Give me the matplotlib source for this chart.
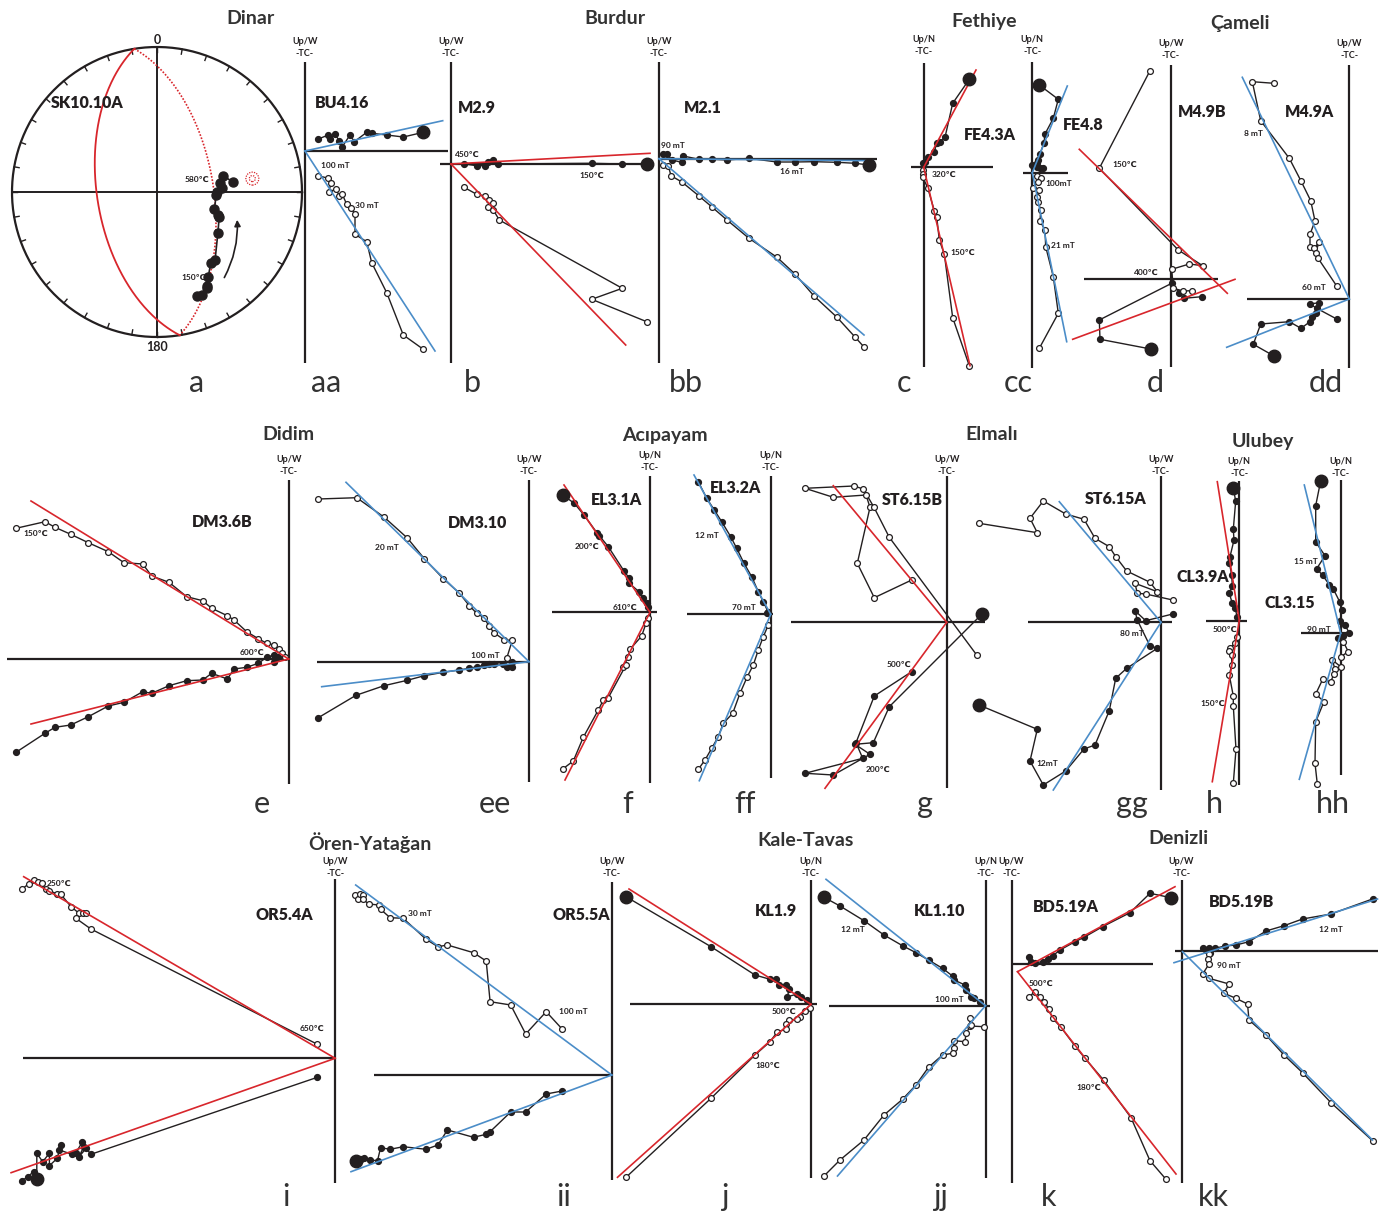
import numpy as np
import matplotlib.pyplot as plt
from matplotlib.patches import FancyArrowPatch, Circle

W, H = 1381, 1213
RED = '#d8262c'
BLUE = '#4b8dc8'
INK = '#231f20'
SANS = ['Lato', 'DejaVu Sans']

# ---- a: stereonet SK10.10A, declination / inclination of the steps
sk_dec = [159, 156.5, 152.7, 151.8, 149, 143, 139.5, 124.1, 112.1, 110.6,
          106.8, 92.9, 89.7, 86.2, 81.9, 76.1, 82.5]
sk_inc = [24.2, 23.6, 26.2, 27.6, 32, 38.4, 38.3, 48, 51.8, 52.8,
          56, 56.4, 56, 53.2, 53.8, 51.4, 46]
sk_mean = (82, 34)
sk_plane_solid = (261, 56)   # dip direction, dip
sk_plane_dotted = (81, 58)

# ---- orthogonal plots: (x, y) offsets from the axis crossing, y up
# h = horizontal projection (filled), v = vertical projection (open)
aa_h = [(13.3, 12), (23.3, 16), (25, 12), (30, 16.7), (34.3, 10.3), (37.3, 4.3), (45, 16),
        (49.3, 9.3), (61.7, 18.7), (66.7, 17.7), (81.7, 16), (98.3, 14), (118.3, 18.7)]
aa_v = [(13.3, -24.7), (23.3, -27.3), (26, -31.7), (24, -40.7), (31, -38.3), (34.3, -44.7),
        (37.3, -43.3), (41.7, -53.3), (45.7, -56.7), (50, -63.3), (50, -83.3), (61.7, -90.7),
        (66.7, -111.7), (81.7, -141.7), (98.3, -184), (118.3, -198.3)]
aa_fit = [[(0, 0), (137.7, 30.3)], [(0, 0), (130, -200)]]

b_h = [(13.3, 0), (25.7, -1.7), (34, -1.7), (37.3, 2.3), (42.3, 4), (47.3, 0),
       (140.7, 0.7), (171.3, 0), (195.7, -0.3)]
b_v = [(13, -23.3), (25.7, -30.3), (34, -32), (38.3, -36), (42.3, -39.3), (37.3, -42.7),
       (42.3, -46), (48.3, -56), (171.3, -124.3), (140.7, -135.3), (195.7, -157.7)]
b_fit = [[(0, 0), (199, 10.7)], [(0, 0), (174.7, -181)]]

bb_h = [(4.3, 4.7), (8.3, 4.7), (12.7, -1.3), (22.7, -3.6), (24.3, 2.7), (40, -0.6), (53.3, -0.6),
        (68, -1.3), (90, 0.4), (118, -3.3), (136, -3.3), (155, -3), (178, -3.6), (196.3, -4.6),
        (210.3, -6.3)]
bb_v = [(4.3, -6.6), (9.3, -7), (12, -17), (23.3, -23.6), (40, -37.3), (53.3, -48.6), (68, -61.3),
        (90, -79.6), (118, -98.6), (136, -115.3), (155, -137.3), (178, -158.6), (196.3, -178.6),
        (204.7, -188)]
bb_fit = [[(0, 0), (214.3, -2)], [(0, 0), (205, -176.3)]]

c_h = [(-0.3, 4), (1.3, 5.6), (4.7, 10.6), (10.6, 15.6), (13, 24), (16.3, 25.6), (21.3, 30),
       (29, 64), (45.6, 88)]
c_v = [(-0.4, -2.7), (-1, -7), (-1, -10), (4, -20.4), (10.6, -43.4), (13, -49.4), (15.6, -72.7),
       (20.6, -86.7), (29, -150.4), (45.6, -198.4)]
c_fit = [[(0, 0), (52.3, 97.3)], [(0, 0), (46.3, -198.4)]]

cc_h = [(0, 7.7), (4.7, 6), (8, 4.4), (10.7, 4.4), (4.4, 9.4), (6, 12.7), (7.7, 18.7), (11.7, 30),
        (12.7, 38.7), (21, 54.4), (26, 73.4), (7, 87.7)]
cc_v = [(5, -3.3), (8.7, -5.6), (6, -9), (0.4, -15), (7, -17.3), (4.4, -24), (6, -29.6),
        (8.4, -37.3), (7.7, -48.3), (12.7, -57.3), (13.4, -74), (21, -104), (26, -140.6),
        (7, -175.6)]
cc_fit = [[(0, 0), (35, 86.7)], [(0, 0), (34.4, -169)]]

d_h = [(-20, -69.7), (-70.7, -60), (-71.4, -40.7), (1, -4), (8.6, -13.4), (13.3, -19), (31, -17.4)]
d_v = [(-20.7, 208.6), (-71.4, 111), (7.6, 29.3), (32, 13.6), (18.6, 15.3), (1, 10), (2.6, -9),
       (12.6, -11.7), (21, -11.4)]
d_fit = [[(-91.4, 130), (56.6, -14)], [(-98, -60), (64.3, 0)]]

dd_h = [(-75.3, -57), (-96, -45.3), (-88.6, -25), (-60, -22.7), (-48.3, -29.3), (-39.3, -22.7),
        (-37, -18.3), (-33.6, -14.3), (-30.3, -3.7), (-39.3, -5), (-32.6, -9.3), (-12.6, -20)]
dd_v = [(-75.3, 215.7), (-97, 217.3), (-88.6, 178.3), (-60, 140.7), (-48.3, 118), (-38.6, 98.3),
        (-34.3, 78), (-39.3, 64.7), (-39.3, 52.3), (-35.3, 50.7), (-30.3, 56.7), (-33.6, 46.3),
        (-31.6, 41.3), (-12.6, 13)]
dd_fit = [[(0, 0), (-107, 221.7)], [(0, 0), (-122.6, -48.3)]]

e_h = [(-272.7, -93.3), (-243.7, -74.3), (-233.7, -68.3), (-218, -66), (-200.4, -57.7),
       (-180.4, -47), (-164.7, -43.3), (-146, -32.7), (-137, -34.3), (-119.7, -26.7),
       (-102, -21.7), (-86, -21), (-77, -14.3), (-61.4, -20), (-54.7, -10), (-42, -8.3),
       (-30.4, -4.3), (-22, 1.7), (-14.7, 4), (-10.4, 1.7), (-14.7, -2.7)]
e_v = [(-272.7, 130.7), (-243.7, 137.3), (-233.7, 131.7), (-218, 124.7), (-200.4, 116.3),
       (-180.4, 107.3), (-164.7, 96.3), (-146, 95), (-137, 83), (-119.7, 76.7), (-102, 62.3),
       (-86, 58.3), (-77, 50.7), (-61.4, 43.3), (-54.7, 39), (-42, 27.3), (-30.4, 20.3),
       (-22, 15.7), (-14.7, 14), (-9.7, 9.7), (-7, 5.7), (-3.7, 2.3)]
e_fit = [[(0, 0), (-257.7, 158)], [(0, 0), (-257.7, -65)]]

ee_h = [(-210.7, -56), (-173, -33.6), (-145, -24), (-121.7, -18.6), (-104.7, -14), (-85.7, -10.6),
        (-69.7, -8.3), (-59.7, -6.6), (-51.7, -5), (-45, -3.6), (-40, -2.6), (-35, -2),
        (-25.7, -2.6), (-22.3, -5), (-16.7, 0), (-16.7, -5)]
ee_v = [(-210.7, 162.7), (-172.3, 164), (-144.7, 144.4), (-121.7, 123.7), (-104.7, 103),
        (-85.7, 83), (-69.7, 68.7), (-59.7, 56), (-52.3, 48.4), (-45, 44), (-40, 35.7),
        (-35, 29), (-24.7, 21.7), (-16.7, 21.4), (-22.3, 3.4)]
ee_fit = [[(0, 0), (-183, 179.4)], [(0, 0), (-207.3, -25)]]

f_h = [(-87.3, 117.3), (-75.7, 109), (-66, 97.3), (-52.7, 79), (-50.7, 76.6), (-41.7, 65.6),
       (-26, 41.3), (-20.7, 34), (-20.7, 29), (-11, 20.6), (-6.7, 14), (-3.3, 9), (-1.7, 5)]
f_v = [(-1.7, -5.4), (-4, -11), (-8.3, -23.7), (-20, -37), (-21.7, -45), (-27.3, -55),
       (-24, -52.7), (-41.7, -85.4), (-46.7, -87.7), (-51.7, -97.7), (-66.7, -125),
       (-76.7, -148.7), (-87.3, -156.7)]
f_fit = [[(0, 0), (-86, 127.3)], [(0, 0), (-85, -167.7)]]

ff_h = [(-72.4, 132.6), (-64, 116), (-56.4, 104.3), (-49, 92.6), (-40, 77.6), (-34, 66),
        (-26.7, 51), (-19, 37.6), (-12.4, 22.6), (-7.4, 12.6), (-2.4, 2), (-4, 1)]
ff_v = [(-2.4, -10.7), (-7.4, -22.4), (-12.4, -35.7), (-17.4, -50.7), (-23.4, -62.4),
        (-30.7, -79), (-38, -99), (-47.4, -109), (-52.4, -122.4), (-59, -134), (-65.7, -145.7),
        (-72.4, -155)]
ff_fit = [[(0, 0), (-76.7, 139.3)], [(0, 0), (-71.4, -166.4)]]

g_h = [(-35, -49.4), (-72.4, -73.7), (-90.7, -120.4), (-84, -136), (-141.7, -151),
       (-113.4, -152.7), (-76.7, -132), (-91.7, -122), (-73.4, -120.4), (-57.4, -84.4), (35, 8)]
g_v = [(-35, 42.3), (-72.4, 24.6), (-89.4, 59), (-76.7, 115), (-80.7, 127.3), (-113.4, 125),
       (-141.7, 134), (-92.7, 136.3), (-83.4, 133.3), (-72.7, 115), (-57.4, 85), (30, -32.7)]
g_fit = [[(0, 0), (-113.4, 136.6)], [(0, 0), (-121.7, -166)]]

gg_h = [(11.7, 8.3), (-15.3, 1.6), (-26, 11.6), (-23.7, 2.3), (-11, -23.7), (-3.7, -26),
        (-34.3, -46), (-45.3, -56), (-51.7, -88.4), (-66, -122.7), (-77, -126.7),
        (-95.3, -148.7), (-117.7, -162.7), (-131, -138.7), (-123.7, -107), (-182, -82.7)]
gg_v = [(-182, 99), (-123.7, 89.6), (-131, 104), (-117.7, 121.3), (-95.3, 108.3), (-77, 103),
        (-66, 84), (-51.7, 75.6), (-45.3, 65.6), (-34.3, 51.3), (-11, 40), (-3.7, 30.6),
        (-26, 39), (-23.7, 29), (-15.3, 28.3), (11.7, 22.3)]
gg_fit = [[(0, 0), (-101.7, 120.6)], [(0, 0), (-107.7, -167.7)]]

h_h = [(-6, 132.4), (-3.6, 119.7), (-6, 91.4), (-5.3, 80.7), (-9.3, 64), (-10, 58), (-7.6, 45.7),
       (-7, 35), (-10, 27.4), (-7, 17.4), (-4.3, 12.4), (-2, 4)]
h_v = [(-2, -16.6), (-4.3, -22), (-9.3, -27.6), (-10, -30), (-7.6, -34.3), (-7.6, -44.3),
       (-10, -54.3), (-6, -75.3), (-6, -85.3), (-3.3, -128.6), (-6, -162.6)]
h_fit = [[(0, 0), (-22, 139)], [(0, 0), (-27, -161)]]

hh_h = [(-20, 152.6), (-25, 127.6), (-25, 91.3), (-15.7, 77.6), (-24, 64.6), (-18, 57.9),
        (-11.4, 48.6), (-7.4, 44.3), (-0.7, 30.9), (1, 23.6), (-0.7, 11.9), (4.3, 8.6), (8.6, 0),
        (2.6, -2.7), (-2.4, -5)]
hh_v = [(2.6, -8.4), (7.6, -18.4), (0, -23.4), (0, -33.4), (-8.4, -26.7), (-5.7, -36),
        (-6.7, -40.7), (-10, -48.4), (-18, -46), (-25, -60.7), (-16.7, -68.4), (-25, -88.4),
        (-25.7, -130), (-23.4, -150.7)]
hh_fit = [[(0, 0), (-36.4, 148.3)], [(0, 0), (-41.4, -146)]]

i_h = [(-313.5, -122.7), (-307.5, -118.4), (-301.6, -113.4), (-298.4, -121), (-298.4, -95),
       (-292.5, -103.4), (-285.8, -95), (-285.8, -107.4), (-277.9, -100), (-274.7, -86.7),
       (-275.9, -91.7), (-263.3, -96), (-259.3, -94.4), (-253, -84), (-251.4, -88.4),
       (-256.2, -98.4), (-249, -90), (-244.3, -96), (-17.8, -19)]
i_v = [(-313.5, 169), (-306.7, 174.3), (-301.6, 178.3), (-297.7, 176.6), (-293.7, 175),
       (-289.7, 169.3), (-285.8, 167.6), (-277.9, 164.3), (-274.7, 164.3), (-264.1, 151.6),
       (-256.2, 145), (-252.2, 145), (-249, 145.6), (-259.3, 140), (-244.3, 129.3), (-17.8, 14)]
i_fit = [[(0, 0), (-311.5, 181.6)], [(0, 0), (-324.1, -114.4)]]

ii_h = [(-256.1, -85.7), (-251.3, -84.3), (-248.2, -83.3), (-242.2, -85), (-234.3, -85.7),
        (-231.2, -72.7), (-221.7, -74.3), (-208.6, -71.7), (-185.7, -74.3), (-173.9, -70),
        (-164.4, -55), (-138.3, -62.3), (-125.6, -59.3), (-121.7, -56.7), (-101.1, -37),
        (-86.1, -37), (-65.6, -19), (-49.7, -16)]
ii_v = [(-256.9, 180), (-254.1, 176), (-252.1, 181), (-249, 180), (-249, 175.7), (-243, 171),
        (-233.1, 170), (-231.2, 165.7), (-221.7, 157.3), (-208.6, 156.7), (-185.7, 135.7),
        (-173.9, 128.3), (-164.4, 130), (-138.3, 122.3), (-125.6, 114), (-121.7, 73.3),
        (-101.1, 70), (-86.1, 41), (-65.6, 63.3), (-49.7, 46)]
ii_fit = [[(0, 0), (-256.1, 190)], [(0, 0), (-260.8, -96.7)]]

j_h = [(-185, 107.6), (-100, 57.6), (-56, 29.3), (-41, 25), (-35, 25), (-32, 19.3), (-25, 19.3),
       (-22, 15), (-23.5, 7.6), (-13.5, 10.3), (-10, 7.6), (-3.5, 4.3)]
j_v = [(-1, -4), (-6, -6.4), (-11, -12.4), (-13.5, -15), (-22, -15.7), (-24.5, -19.7),
       (-25, -25), (-33.5, -27.4), (-41, -37.4), (-56, -50.7), (-100, -94), (-185, -173)]
j_fit = [[(0, 0), (-182, 115.3)], [(0, 0), (-193.5, -173)]]

jj_h = [(-161.5, 108.4), (-145.5, 99.7), (-121.5, 85), (-101.5, 70.7), (-83, 60), (-69.5, 53),
        (-57, 45.7), (-43, 37.4), (-33, 29.7), (-31.5, 25.7), (-20.5, 20.7), (-19.5, 15.7),
        (-14.5, 8.4), (-11.5, 7.4), (-5.5, 4)]
jj_v = [(-1.5, -21), (-15.5, -20.3), (-15.5, -12.6), (-14.5, -19.3), (-19.5, -27.6), (-20.5, -36),
        (-31.5, -35), (-31.5, -42.6), (-33, -47.6), (-43, -49.3), (-57, -61.6), (-69.5, -79.3),
        (-83, -93.6), (-101.5, -109.3), (-121.5, -134.3), (-145.5, -154.3), (-161.5, -170.3)]
jj_fit = [[(0, 0), (-159.5, 126.4)], [(0, 0), (-148, -170.3)]]

k_h = [(159.5, 66.3), (138.5, 70.7), (118.5, 51.3), (91, 37.3), (72.5, 26.7), (63.5, 22.3),
       (48.5, 14), (41, 8), (36, 4.7), (31, 2.3), (23.5, 1.3), (17.5, 6.7), (19.5, 2.3)]
k_v = [(17.5, -32.7), (23.5, -27.7), (28.5, -32.7), (32.5, -37.7), (37.5, -45.3), (41, -54.3),
       (49.5, -63.3), (63.5, -82), (73.5, -94.3), (92, -116), (119.5, -153.7), (138.5, -196.7),
       (154.5, -215.3)]
k_fit = [[(6, -7.7), (163.5, 77.3)], [(6, -7.7), (164.5, -210)]]

kk_h = [(191, 52), (149.5, 37), (121, 32), (102.5, 25.3), (84.5, 20), (67.5, 9.3), (54.5, 6),
        (43.5, 5), (33.5, 2.7), (27.5, 2.7), (21, 3.3), (24.5, 1), (28.5, -1.7)]
kk_v = [(27.5, -3), (26, -8.3), (27.5, -13), (21, -23.3), (27.5, -27.3), (47.5, -33),
        (42.5, -42.3), (54.5, -47.3), (66, -53), (67.5, -69), (84.5, -84), (102.5, -104),
        (121, -121.7), (149.5, -151.7), (191, -189.7)]
kk_fit = [[(-7.5, -11.7), (196, 52)], [(1, -0.7), (191, -189)]]

# step labels: (text, x px, y px)
steps = [('580℃', 197, 179), ('150℃', 194, 277),
         ('100 mT', 335, 166), ('30 mT', 367, 206),
         ('450℃', 467, 154), ('150℃', 592, 175),
         ('90 mT', 673, 146), ('16 mT', 792, 172),
         ('320℃', 944, 174), ('150℃', 963, 252),
         ('100mT', 1059, 183), ('21 mT', 1063, 246),
         ('150℃', 1125, 164), ('400℃', 1146, 272),
         ('8 mT', 1253, 133), ('60 mT', 1314, 287),
         ('150℃', 36, 533), ('600℃', 252, 652),
         ('20 mT', 387, 547), ('100 mT', 485, 655),
         ('200℃', 587, 546), ('610℃', 625, 607),
         ('12 mT', 707, 535), ('70 mT', 744, 608),
         ('500℃', 899, 664), ('200℃', 878, 769),
         ('80 mT', 1132, 633), ('12mT', 1047, 763),
         ('500℃', 1225, 629), ('150℃', 1213, 703),
         ('15 mT', 1306, 561), ('90 mT', 1319, 629),
         ('250℃', 59, 883), ('650℃', 312, 1028),
         ('30 mT', 420, 914), ('100 mT', 573, 1012),
         ('500℃', 784, 1011), ('180℃', 768, 1065),
         ('12 mT', 853, 930), ('100 mT', 949, 1000),
         ('500℃', 1041, 983), ('180℃', 1089, 1087),
         ('12 mT', 1331, 929), ('90 mT', 1229, 965)]

sites = [('Dinar', 250, 19), ('Burdur', 615, 19), ('Fethiye', 984, 22), ('Çameli', 1240, 23),
         ('Didim', 288, 434), ('Acıpayam', 665, 435), ('Elmalı', 992, 435), ('Ulubey', 1263, 442),
         ('Ören-Yatağan', 370, 843), ('Kale-Tavas', 806, 841), ('Denizli', 1178, 838)]

fig = plt.figure(figsize=(W / 100, H / 100), dpi=100)


def ftext(x, y, s, **kw):
    return fig.text(x / W, 1 - y / H, s, **kw)


def sample_label(x, y, s):
    ftext(x, y, s, ha='center', va='center', fontsize=11.5, fontweight='heavy',
          family=SANS, color=INK)


def local_axes(ox, oy):
    ax = fig.add_axes([0, 0, 1, 1])
    ax.set_xlim(-ox, W - ox)
    ax.set_ylim(oy - H, oy)
    ax.axis('off')
    return ax


# ---- stereonet
R = 145
ax = local_axes(157, 192)
t = np.linspace(0, 2 * np.pi, 400)
ax.plot(R * np.cos(t), R * np.sin(t), color=INK, lw=1.6)
ax.plot([-R, R], [0, 0], color=INK, lw=1.4)
ax.plot([0, 0], [-R, R], color=INK, lw=1.4)
for a in np.radians(np.arange(0, 360, 10)):
    ax.plot([R * np.sin(a), (R - 5) * np.sin(a)], [R * np.cos(a), (R - 5) * np.cos(a)],
            color=INK, lw=1.0)


def eqarea(trend, plunge):
    tr, pl = np.radians(trend), np.radians(plunge)
    r = np.sqrt(2) * np.sin((np.pi / 2 - pl) / 2)
    return r * np.sin(tr), r * np.cos(tr)


def great_circle(dipdir, dip):
    s = np.linspace(0, np.pi, 200)
    sk, dd, d = np.radians(dipdir - 90), np.radians(dipdir), np.radians(dip)
    e = np.cos(s) * np.sin(sk) + np.sin(s) * np.cos(d) * np.sin(dd)
    n = np.cos(s) * np.cos(sk) + np.sin(s) * np.cos(d) * np.cos(dd)
    p = np.arcsin(np.sin(s) * np.sin(d))
    r = np.sqrt(2) * np.sin((np.pi / 2 - p) / 2)
    return r * e / np.cos(p), r * n / np.cos(p)


gx, gy = great_circle(*sk_plane_solid)
ax.plot(R * gx, R * gy, color=RED, lw=1.3)
gx, gy = great_circle(*sk_plane_dotted)
ax.plot(R * gx, R * gy, color=RED, lw=1.2, ls=(0, (1, 1)))
px, py = eqarea(np.array(sk_dec), np.array(sk_inc))
ax.plot(R * px, R * py, color=INK, lw=1.2, marker='o', ms=6.5, mfc=INK, mec=INK, zorder=3)
mx, my = eqarea(*sk_mean)
for rad in (3, 6.5):
    ax.add_patch(Circle((R * mx, R * my), rad, fill=False, ec=RED, lw=0.9, ls=(0, (1, 1))))
ax.add_patch(FancyArrowPatch((66, -88), (80, -25), connectionstyle='arc3,rad=0.15',
                             arrowstyle='-|>', mutation_scale=9, lw=1.2, color=INK))
ftext(157, 40, '0', ha='center', va='center', fontsize=9, fontweight='bold', family=SANS, color=INK)
ftext(157, 347, '180', ha='center', va='center', fontsize=9, fontweight='bold', family=SANS, color=INK)

# ---- orthogonal panels
panels = [
    # name, origin, h-axis x range, v-axis y range, up label, label y, h, v, big, fit, colour, letter, name pos
    ('BU4.16', (305, 151), (0, 143), (89, -212), 'Up/W', 42, aa_h, aa_v, -1, aa_fit, BLUE, 'aa', (342, 103)),
    ('M2.9', (451, 164), (-11, 200), (102, -199), 'Up/W', 42, b_h, b_v, -1, b_fit, RED, 'b', (477, 108)),
    ('M2.1', (659, 158.7), (0, 218), (96.7, -204.3), 'Up/W', 42, bb_h, bb_v, -1, bb_fit, BLUE, 'bb', (703, 108)),
    ('FE4.3A', (923.7, 167.3), (-13, 69.6), (104.6, -199.4), 'Up/N', 40, c_h, c_v, -1, c_fit, RED, 'c', (990, 135)),
    ('FE4.8', (1032.3, 172.7), (-9.6, 36), (110.7, -195.3), 'Up/N', 40, cc_h, cc_v, -1, cc_fit, BLUE, 'cc', (1083, 125)),
    ('M4.9B', (1170.7, 279.3), (-86.7, 47.6), (214.3, -87.4), 'Up/W', 43, d_h, d_v, 0, d_fit, RED, 'd', (1202, 112)),
    ('M4.9A', (1349.3, 299), (-102, 0), (234, -68.7), 'Up/W', 43, dd_h, dd_v, 0, dd_fit, BLUE, 'dd', (1310, 112)),
    ('DM3.6B', (288.7, 659), (-281.4, 0), (179, -125.3), 'Up/W', 460, e_h, e_v, None, e_fit, RED, 'e', (222, 522)),
    ('DM3.10', (529, 661.7), (-212.3, 0), (181.7, -120.6), 'Up/W', 460, ee_h, ee_v, None, ee_fit, BLUE, 'ee', (478, 523)),
    ('EL3.1A', (650, 612.3), (-98.3, 6.7), (136.3, -170.4), 'Up/N', 455, f_h, f_v, 0, f_fit, RED, 'f', (617, 500)),
    ('EL3.2A', (770.7, 614.3), (-84, 2.6), (138.3, -164), 'Up/N', 455, ff_h, ff_v, None, ff_fit, BLUE, 'ff', (736, 488)),
    ('ST6.15B', (946.7, 622.3), (-156, 38.3), (146.3, -166), 'Up/W', 459, g_h, g_v, -1, g_fit, RED, 'g', (912, 500)),
    ('ST6.15A', (1161, 622.3), (-132.7, 11), (146.3, -167.7), 'Up/W', 459, gg_h, gg_v, -1, gg_fit, BLUE, 'gg', (1116, 499)),
    ('CL3.9A', (1239.3, 620.7), (-33.3, 7.4), (140, -164.3), 'Up/N', 462, h_h, h_v, 0, h_fit, RED, 'h', (1203, 577)),
    ('CL3.15', (1340.7, 633.3), (-40, 11), (153, -141.7), 'Up/N', 462, hh_h, hh_v, 0, hh_fit, BLUE, 'hh', (1290, 603)),
    ('OR5.4A', (335.2, 1058.3), (-312.7, 0), (179, -124.4), 'Up/W', 861, i_h, i_v, 3, i_fit, RED, 'i', (284, 915)),
    ('OR5.5A', (611.8, 1075), (-238.3, 0), (193.3, -105), 'Up/W', 861, ii_h, ii_v, 0, ii_fit, BLUE, 'ii', (581, 915)),
    ('KL1.9', (811, 1004.3), (-181, 6.5), (124.3, -174), 'Up/N', 861, j_h, j_v, 0, j_fit, RED, 'j', (776, 911)),
    ('KL1.10', (985.5, 1005.7), (-156.5, 4.5), (125.7, -172.3), 'Up/N', 861, jj_h, jj_v, 0, jj_fit, BLUE, 'jj', (940, 911)),
    ('BD5.19A', (1011.5, 964), (0, 141), (84, -218.7), 'Up/W', 861, k_h, k_v, 0, k_fit, RED, 'k', (1066, 907)),
    ('BD5.19B', (1181.5, 951), (-6.5, 196), (71, -232.3), 'Up/W', 861, kk_h, kk_v, None, kk_fit, BLUE, 'kk', (1242, 902)),
]
letter_pos = {'aa': (326, 392), 'b': (472, 392), 'bb': (686, 392), 'c': (904, 392), 'cc': (1018, 392),
              'd': (1155, 392), 'dd': (1326, 392), 'e': (262, 813), 'ee': (495, 813), 'f': (628, 813),
              'ff': (745, 813), 'g': (925, 813), 'gg': (1132, 813), 'h': (1214, 813), 'hh': (1333, 813),
              'i': (286, 1206), 'ii': (564, 1206), 'j': (725, 1206), 'jj': (940, 1206),
              'k': (1049, 1206), 'kk': (1213, 1206)}

for name, (ox, oy), hx, vy, up, upy, hs, vs, big, fits, col, letter, lab in panels:
    ax = local_axes(ox, oy)
    ax.plot(hx, [0, 0], color=INK, lw=1.6, solid_capstyle='butt', zorder=1)
    ax.plot([0, 0], vy, color=INK, lw=1.6, solid_capstyle='butt', zorder=1)
    x, y = np.array(hs).T
    ax.plot(x, y, color=INK, lw=1.0, marker='o', ms=4.2, mfc=INK, mec=INK, zorder=2)
    if big is not None:
        ax.plot(x[big], y[big], 'o', ms=9, color=INK, zorder=4)
    x, y = np.array(vs).T
    ax.plot(x, y, color=INK, lw=1.0, marker='o', ms=4.2, mfc='white', mec=INK, mew=0.9, zorder=2)
    for seg in fits:
        sx, sy = np.array(seg).T
        ax.plot(sx, sy, color=col, lw=1.2, zorder=3)
    ftext(ox, upy, up, ha='center', va='center', fontsize=6.5, fontweight='bold', family=SANS, color=INK)
    ftext(ox, upy + 12, '-TC-', ha='center', va='center', fontsize=6.5, fontweight='bold', family=SANS, color=INK)
    sample_label(*lab, name)
    ftext(*letter_pos[letter], letter, ha='center', va='baseline', fontsize=22, family=SANS, color='#333333')

sample_label(87, 103, 'SK10.10A')
ftext(197, 392, 'a', ha='center', va='baseline', fontsize=22, family=SANS, color='#333333')

for s, x, y in steps:
    ftext(x, y, s, ha='center', va='center', fontsize=6, fontweight='bold', family=SANS, color=INK)
for s, x, y in sites:
    ftext(x, y, s, ha='center', va='center', fontsize=14, fontweight='bold', family=SANS, color='#333333')

fig.savefig('out.png', dpi=100, facecolor='white')
